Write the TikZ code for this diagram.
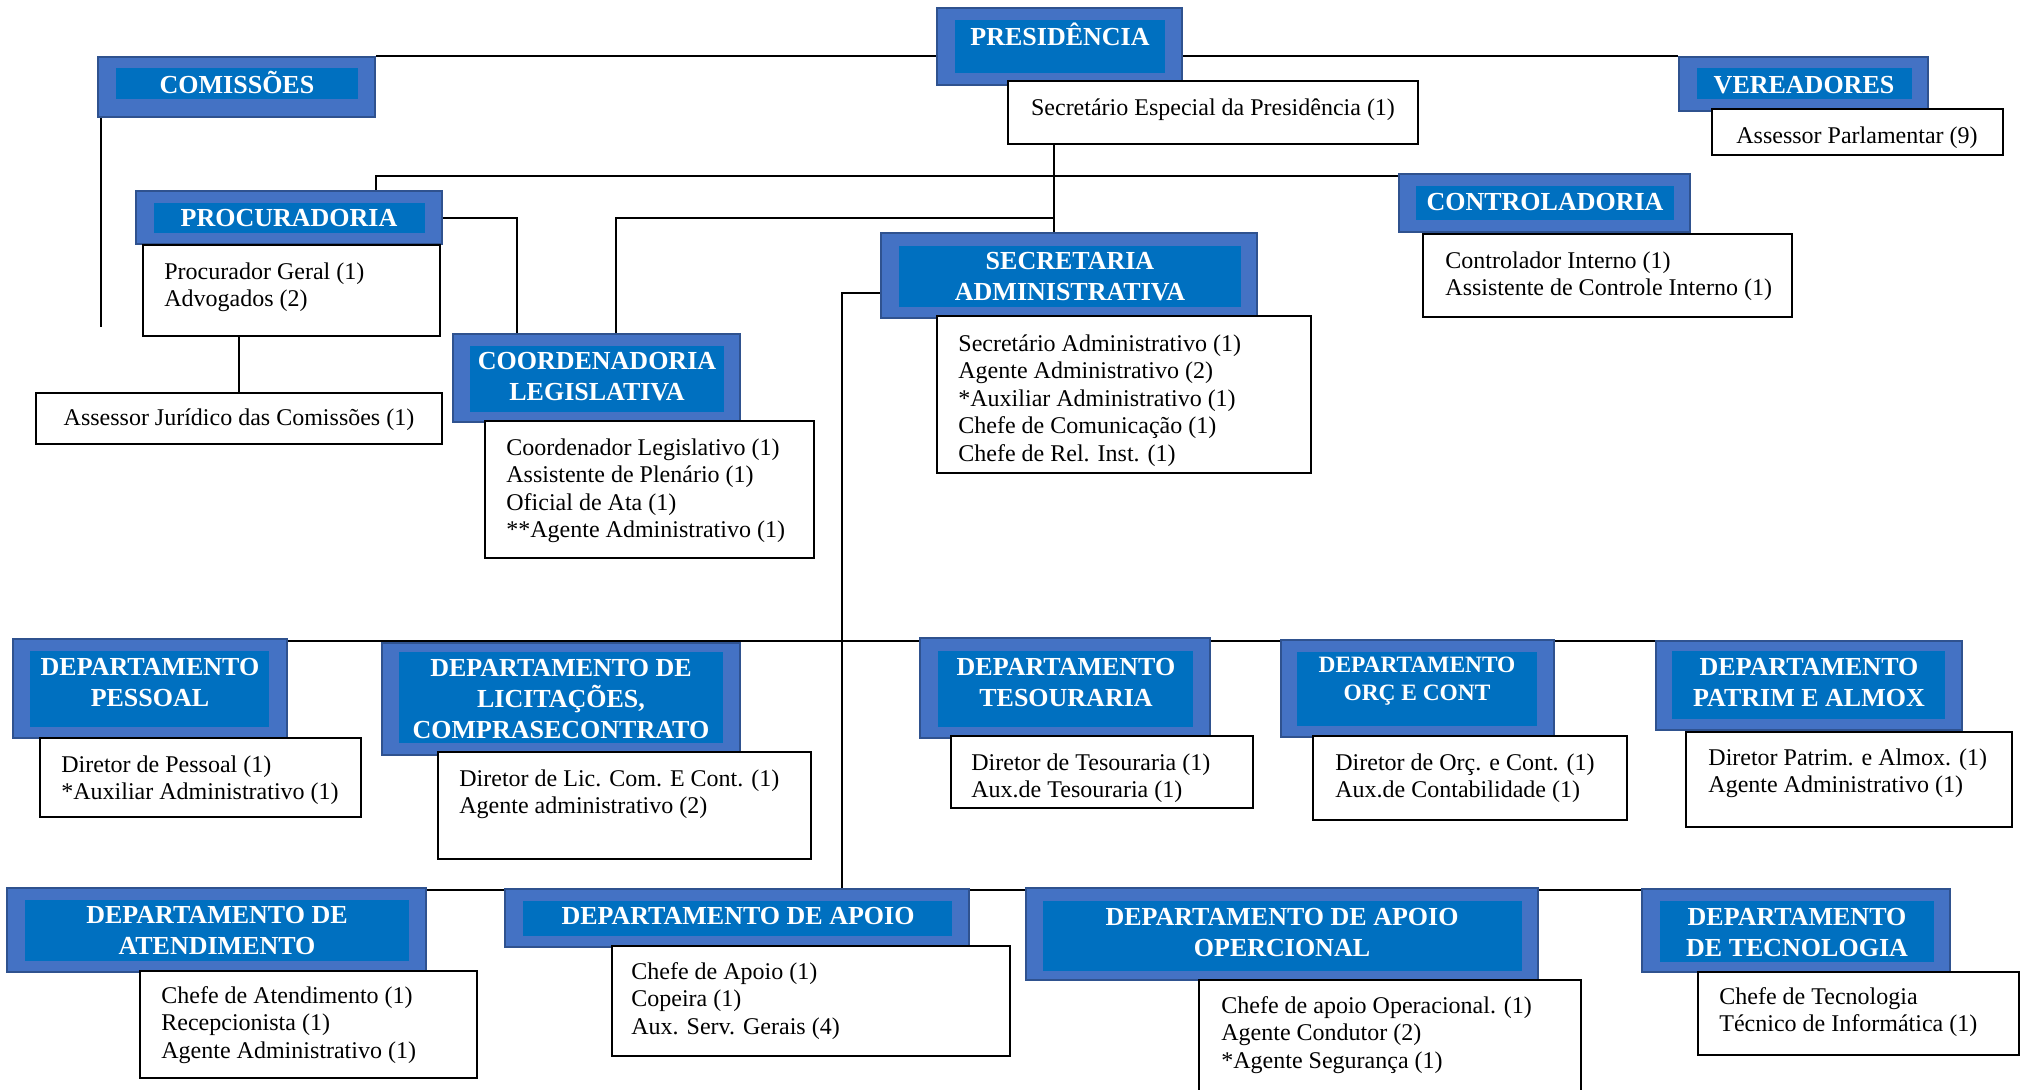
\documentclass[tikz,border=0pt]{standalone}
\usepackage{fontspec}
\setmainfont{Liberation Serif}
\usetikzlibrary{fit,calc}
\definecolor{outerblue}{HTML}{4472C4}
\definecolor{innerblue}{HTML}{0070C0}
\definecolor{boxborder}{HTML}{2F528F}
\pgfdeclarelayer{bg}
\pgfsetlayers{bg,main}
\tikzset{
  outerbox/.style={draw=boxborder, line width=1pt, fill=outerblue, inner sep=0pt},
  innerbox/.style={fill=innerblue, inner sep=0pt},
  head/.style={text=white, font=\bfseries\fontsize{13}{15.5}\selectfont, align=center, inner sep=0pt},
  smallhead/.style={head, font=\bfseries\fontsize{11.7}{14}\selectfont},
  listbox/.style={draw=black, line width=1.2pt, fill=white, inner sep=0pt},
  listtext/.style={font=\fontsize{12}{13.8}\selectfont, align=left, anchor=north west, inner sep=0pt},
  cline/.style={font=\fontsize{12}{13.8}\selectfont, inner sep=0pt},
  conn/.style={line width=1pt, draw=black}
}
\begin{document}
\begin{tikzpicture}[x=0.5pt,y=-0.5pt]
\useasboundingbox (0,0) rectangle (2022,1089);
\clip (0,0) rectangle (2022,1089);

% ---------- PRESIDENCIA ----------
\node[outerbox, fit={(937,8)(1182,85)}] (presO) {};
\node[innerbox, fit={(955,20)(1165,73)}] (presI) {};
\node[head] (presT) at (1060,34) {PRESIDÊNCIA};
\node[listbox, fit={(1008,81)(1418,144)}] (secesp) {};
\node[cline] (secespT) at (1213,110) {Secretário Especial da Presidência (1)};

% ---------- COMISSOES ----------
\node[outerbox, fit={(98,57)(375,117)}] (comO) {};
\node[innerbox, fit={(116,68)(358,99)}] (comI) {};
\node[head] (comT) at (237,82) {COMISSÕES};

% ---------- VEREADORES ----------
\node[outerbox, fit={(1679,57)(1928,111)}] (verO) {};
\node[innerbox, fit={(1697,68)(1912,99)}] (verI) {};
\node[head] (verT) at (1804,85) {VEREADORES};
\node[listbox, fit={(1712,109)(2003,155)}] (verL) {};
\node[cline] (verLT) at (1857,138) {Assessor Parlamentar (9)};

% ---------- PROCURADORIA ----------
\node[outerbox, fit={(136,191)(442,244)}] (proO) {};
\node[innerbox, fit={(154,203)(425,233)}] (proI) {};
\node[head] (proT) at (289,218) {PROCURADORIA};
\node[listbox, fit={(143,245)(440,336)}] (proL) {};
\node[listtext] (proLT) at (164,262) {Procurador Geral (1)\\Advogados (2)};

\node[listbox, fit={(36,393)(442,444)}] (asj) {};
\node[cline] (asjT) at (239,420) {Assessor Jurídico das Comissões (1)};

% ---------- CONTROLADORIA ----------
\node[outerbox, fit={(1399,174)(1690,232)}] (ctlO) {};
\node[innerbox, fit={(1416,186)(1674,220)}] (ctlI) {};
\node[head] (ctlT) at (1545,202) {CONTROLADORIA};
\node[listbox, fit={(1423,234)(1792,317)}] (ctlL) {};
\node[listtext] (ctlLT) at (1445,251) {Controlador Interno (1)\\Assistente de Controle Interno (1)};

% ---------- COORDENADORIA ----------
\node[outerbox, fit={(453,334)(740,422)}] (cooO) {};
\node[innerbox, fit={(470,346)(724,412)}] (cooI) {};
\node[head] (cooT) at (597,377) {COORDENADORIA\\LEGISLATIVA};
\node[listbox, fit={(485,421)(814,558)}] (cooL) {};
\node[listtext] (cooLT) at (506,438) {Coordenador Legislativo (1)\\Assistente de Plenário (1)\\Oficial de Ata (1)\\**Agente Administrativo (1)};

% ---------- SECRETARIA ----------
\node[outerbox, fit={(881,233)(1257,318)}] (secO) {};
\node[innerbox, fit={(899,246)(1241,307)}] (secI) {};
\node[head] (secT) at (1070,277) {SECRETARIA\\ADMINISTRATIVA};
\node[listbox, fit={(937,316)(1311,473)}] (secL) {};
\node[listtext] (secLT) at (958,334) {Secretário Administrativo (1)\\Agente Administrativo (2)\\*Auxiliar Administrativo (1)\\Chefe de Comunicação (1)\\Chefe de Rel. Inst. (1)};

% ---------- ROW 1 ----------
\node[outerbox, fit={(13,639)(287,738)}] (pesO) {};
\node[innerbox, fit={(30,651)(269,727)}] (pesI) {};
\node[head] (pesT) at (150,683) {DEPARTAMENTO\\PESSOAL};
\node[listbox, fit={(40,738)(361,817)}] (pesL) {};
\node[listtext] (pesLT) at (61,755) {Diretor de Pessoal (1)\\*Auxiliar Administrativo (1)};

\node[outerbox, fit={(382,643)(740,755)}] (licO) {};
\node[innerbox, fit={(399,652)(723,743)}] (licI) {};
\node[head] (licT) at (561,699) {DEPARTAMENTO DE\\LICITAÇÕES,\\COMPRASECONTRATO};
\node[listbox, fit={(438,752)(811,859)}] (licL) {};
\node[listtext] (licLT) at (459,769) {Diretor de Lic. Com. E Cont. (1)\\Agente administrativo (2)};

\node[outerbox, fit={(920,638)(1210,738)}] (tesO) {};
\node[innerbox, fit={(938,651)(1193,727)}] (tesI) {};
\node[head] (tesT) at (1066,683) {DEPARTAMENTO\\TESOURARIA};
\node[listbox, fit={(951,736)(1253,808)}] (tesL) {};
\node[listtext] (tesLT) at (971,753) {Diretor de Tesouraria (1)\\Aux.de Tesouraria (1)};

\node[outerbox, fit={(1281,640)(1554,737)}] (orcO) {};
\node[innerbox, fit={(1297,652)(1537,726)}] (orcI) {};
\node[smallhead] (orcT) at (1417,681) {DEPARTAMENTO\\ORÇ E CONT};
\node[listbox, fit={(1313,736)(1627,820)}] (orcL) {};
\node[listtext] (orcLT) at (1335,753) {Diretor de Orç. e Cont. (1)\\Aux.de Contabilidade (1)};

\node[outerbox, fit={(1656,641)(1962,730)}] (patO) {};
\node[innerbox, fit={(1672,651)(1945,719)}] (patI) {};
\node[head] (patT) at (1809,683) {DEPARTAMENTO\\PATRIM E ALMOX};
\node[listbox, fit={(1686,732)(2012,827)}] (patL) {};
\node[listtext] (patLT) at (1708,748) {Diretor Patrim. e Almox. (1)\\Agente Administrativo (1)};

% ---------- ROW 2 ----------
\node[outerbox, fit={(7,888)(426,972)}] (ateO) {};
\node[innerbox, fit={(25,900)(409,961)}] (ateI) {};
\node[head] (ateT) at (217,930) {DEPARTAMENTO DE\\ATENDIMENTO};
\node[listbox, fit={(140,971)(477,1078)}] (ateL) {};
\node[listtext] (ateLT) at (161,986) {Chefe de Atendimento (1)\\Recepcionista (1)\\Agente Administrativo (1)};

\node[outerbox, fit={(505,889)(969,947)}] (apoO) {};
\node[innerbox, fit={(523,901)(952,936)}] (apoI) {};
\node[head] (apoT) at (738,916) {DEPARTAMENTO DE APOIO};
\node[listbox, fit={(612,946)(1010,1056)}] (apoL) {};
\node[listtext] (apoLT) at (631,962) {Chefe de Apoio (1)\\Copeira (1)\\Aux. Serv. Gerais (4)};

\node[outerbox, fit={(1026,888)(1538,980)}] (opeO) {};
\node[innerbox, fit={(1043,901)(1522,971)}] (opeI) {};
\node[head] (opeT) at (1282,932) {DEPARTAMENTO DE APOIO\\OPERCIONAL};
\node[listbox, fit={(1199,980)(1581,1110)}] (opeL) {};
\node[listtext] (opeLT) at (1221,996) {Chefe de apoio Operacional. (1)\\Agente Condutor (2)\\*Agente Segurança (1)};

\node[outerbox, fit={(1642,889)(1950,972)}] (tecO) {};
\node[innerbox, fit={(1660,901)(1934,962)}] (tecI) {};
\node[head] (tecT) at (1797,932) {DEPARTAMENTO\\DE TECNOLOGIA};
\node[listbox, fit={(1698,972)(2019,1055)}] (tecL) {};
\node[listtext] (tecLT) at (1719,987) {Chefe de Tecnologia\\Técnico de Informática (1)};

% ---------- junction coordinates ----------
\coordinate (jTop) at (1054,218);
\coordinate (jH) at (376,176);
\coordinate (jHe) at (1450,176);
\coordinate (jP) at (517,218);
\coordinate (jC) at (616,218);
\coordinate (jS) at (842,293);
\coordinate (comEnd) at (101,327);
\coordinate (r1a) at (186,641);
\coordinate (r1b) at (1962,641);
\coordinate (r2b) at (1938,890);

% ---------- connectors ----------
\begin{pgfonlayer}{bg}
\draw[conn] (comO.north east) -- (comO.north east -| presO.west);
\draw[conn] (presO.east |- verO.north west) -- (verO.north west);
\draw[conn] (comO.south west -| comEnd) -- (comEnd);
\draw[conn] (secesp.south -| jTop) -- (secO.north -| jTop);
\draw[conn] (proO.north -| jH) -- (jH) -- (jHe);
\draw[conn] (proO.east |- jP) -- (jP) -- (cooO.north -| jP);
\draw[conn] (jTop) -- (jC) -- (cooO.north -| jC);
\draw[conn] (jS -| secO.west) -- (jS) -- (jS |- apoO.north);
\draw[conn] (r1a) -- (r1b);
\draw[conn] (ateO.north east |- r2b) -- (r2b);
\draw[conn] (asj.north |- proL.south) -- (asj.north);
\end{pgfonlayer}
\end{tikzpicture}
\end{document}
